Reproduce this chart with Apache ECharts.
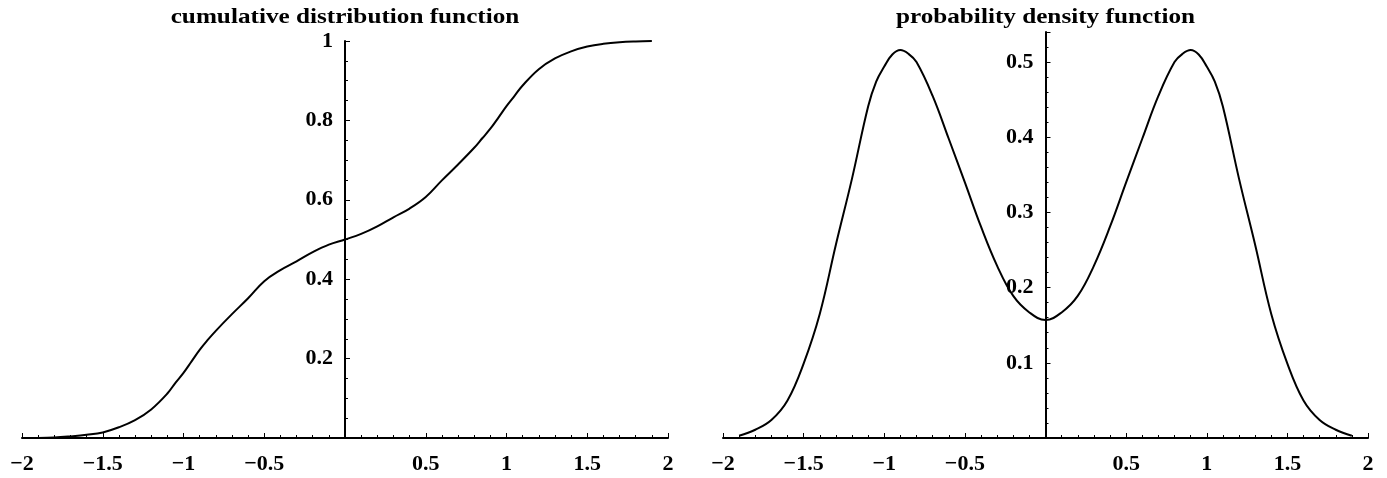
<!DOCTYPE html>
<html>
<head>
<meta charset="utf-8">
<script src="https://cdn.jsdelivr.net/npm/echarts@6/dist/echarts.min.js"></script>
<style>
html,body{margin:0;padding:0;background:#fff;}
#c{width:1387px;height:478px;}
</style>
</head>
<body>
<div id="c"></div>
<script>
var xValues = [-1.9,-1.8,-1.7,-1.6,-1.5,-1.4,-1.3,-1.2,-1.1,-1.05,-1.0,-0.95,-0.9,-0.85,-0.8,-0.7,-0.6,-0.5,-0.4,-0.3,-0.2,-0.1,0,
               0.1,0.2,0.3,0.4,0.5,0.6,0.7,0.8,0.85,0.9,0.95,1.0,1.05,1.1,1.2,1.3,1.4,1.5,1.6,1.7,1.8,1.9];
var cdfValues = [0.000,0.001,0.004,0.008,0.014,0.027,0.045,0.072,0.112,0.139,0.164,0.193,0.222,0.247,0.270,0.312,0.352,0.395,0.423,0.445,0.468,0.487,0.500,
                 0.514,0.533,0.556,0.578,0.607,0.649,0.689,0.731,0.755,0.779,0.807,0.836,0.862,0.888,0.929,0.956,0.974,0.986,0.993,0.997,0.999,1.000];
var pdfValues = [0.003,0.011,0.024,0.050,0.099,0.165,0.257,0.345,0.441,0.474,0.494,0.510,0.516,0.511,0.500,0.455,0.398,0.340,0.281,0.229,0.189,0.167,0.157,
                 0.167,0.189,0.229,0.281,0.340,0.398,0.455,0.500,0.511,0.516,0.510,0.494,0.474,0.441,0.345,0.257,0.165,0.099,0.050,0.024,0.011,0.003];
var titles = ['cumulative distribution function', 'probability density function'];
var xTickLabels = [-2,-1.5,-1,-0.5,0.5,1,1.5,2];
var cdfTickLabels = [0.2,0.4,0.6,0.8,1];
var pdfTickLabels = [0.1,0.2,0.3,0.4,0.5];

var FONT = "'Liberation Serif','Times New Roman',serif";
function fmt(v){ return String(v).replace('-', '\u2212'); }
function inList(list){ return function(v){ for (var i=0;i<list.length;i++){ if (Math.abs(list[i]-v)<1e-9) return fmt(list[i]); } return ''; }; }

var labelStyle = {color:'#000', fontFamily:FONT, fontWeight:'bold', fontSize:22};
function mainX(grid){
  return {type:'value', gridIndex:grid, min:-2, max:2, interval:0.5, position:'bottom',
    axisLine:{show:true, onZero:false, lineStyle:{color:'#000', width:2}},
    axisTick:{show:true, inside:true, length:5, lineStyle:{color:'#000', width:1}},
    axisLabel:Object.assign({margin:15, formatter:inList(xTickLabels)}, labelStyle),
    splitLine:{show:false}};
}
function minorX(grid){
  return {type:'value', gridIndex:grid, min:-2, max:2, interval:0.1, position:'bottom',
    axisLine:{show:false, onZero:false}, axisLabel:{show:false},
    axisTick:{show:true, inside:true, length:3, lineStyle:{color:'#000', width:1}},
    splitLine:{show:false}};
}
function mainY(grid, max, interval, labels){
  return {type:'value', gridIndex:grid, min:0, max:max, interval:interval, position:'left',
    axisLine:{show:true, onZero:false, lineStyle:{color:'#000', width:2}},
    axisTick:{show:true, inside:true, length:5, lineStyle:{color:'#000', width:1}},
    axisLabel:Object.assign({margin:12, formatter:inList(labels)}, labelStyle),
    splitLine:{show:false}};
}
function minorY(grid, max, interval){
  return {type:'value', gridIndex:grid, min:0, max:max, interval:interval, position:'left',
    axisLine:{show:false, onZero:false}, axisLabel:{show:false},
    axisTick:{show:true, inside:true, length:3, lineStyle:{color:'#000', width:1}},
    splitLine:{show:false}};
}

var cdfData = xValues.map(function(x,i){ return [x, cdfValues[i]]; });
var pdfData = xValues.map(function(x,i){ return [x, pdfValues[i]]; });

var chart = echarts.init(document.getElementById('c'), null, {renderer:'canvas'});
var option = {
  animation:false,
  backgroundColor:'#fff',
  grid:[
    {left:22, top:41, width:646, height:397, containLabel:false, outerBoundsMode:'none'},
    {left:723, top:32, width:645, height:406, containLabel:false, outerBoundsMode:'none'}
  ],
  xAxis:[mainX(0), minorX(0), mainX(1), minorX(1)],
  yAxis:[mainY(0, 1, 0.2, cdfTickLabels), minorY(0, 1, 0.05),
         mainY(1, 0.54, 0.1, pdfTickLabels), minorY(1, 0.54, 0.02)],
  series:[
    {type:'line', xAxisIndex:0, yAxisIndex:0, data:cdfData, showSymbol:false, smooth:0.4,
     lineStyle:{color:'#000', width:2}, z:3},
    {type:'line', xAxisIndex:2, yAxisIndex:2, data:pdfData, showSymbol:false, smooth:0.4,
     lineStyle:{color:'#000', width:2}, z:3}
  ]
};
chart.setOption(option);

// place the y axes at x = 0, as in the reference
var z0 = chart.convertToPixel({xAxisIndex:0}, 0), l0 = chart.convertToPixel({xAxisIndex:0}, -2);
var z1 = chart.convertToPixel({xAxisIndex:2}, 0), l1 = chart.convertToPixel({xAxisIndex:2}, -2);
var off0 = -(z0 - l0), off1 = -(z1 - l1);
chart.setOption({
  yAxis:[{offset:off0},{offset:off0},{offset:off1},{offset:off1}],
  graphic:[
    {type:'text', x:z0, y:18, scaleX:1.2, style:{text:titles[0], fill:'#000', font:'bold 21px ' + FONT, textAlign:'center', textVerticalAlign:'middle'}},
    {type:'text', x:z1, y:18, scaleX:1.2, style:{text:titles[1], fill:'#000', font:'bold 21px ' + FONT, textAlign:'center', textVerticalAlign:'middle'}}
  ]
});
</script>
</body>
</html>
